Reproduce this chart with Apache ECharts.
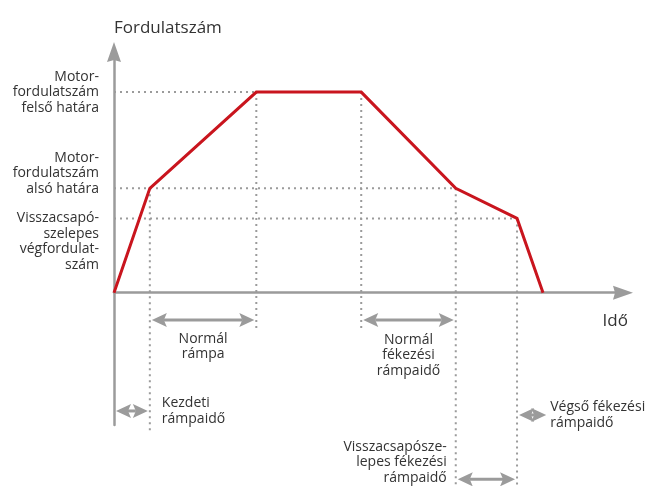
<!DOCTYPE html>
<html><head><meta charset="utf-8">
<script src="https://cdn.jsdelivr.net/npm/echarts@6/dist/echarts.min.js"></script>
<style>html,body{margin:0;padding:0;background:#fff}#c{width:648px;height:486px}</style>
</head><body><div id="c"></div><script>
// ---- data ----
const timePoints = [0, 6.9, 27.4, 47.6, 65.8, 77.6, 82.6];
const speedValues = [0, 52, 100, 100, 52, 37, 0];
const levelValues = [100, 52, 37];
const levelEnds = [27.4, 65.8, 77.6];
const levelLabels = ['Motor-\nfordulatszám\nfelső határa', 'Motor-\nfordulatszám\nalsó határa', 'Visszacsapó-\nszelepes\nvégfordulat-\nszám'];
const guideTimes = [6.9, 27.4, 47.6, 65.8, 77.6];
const guideTops = [52, 100, 100, 52, 37];
const rampStart = [0, 6.9, 47.6, 65.8, 77.6];
const rampEnd = [6.9, 27.4, 65.8, 77.6, 83.6];
const rampLabels = ['Kezdeti\nrámpaidő', 'Normál\nrámpa', 'Normál\nfékezési\nrámpaidő', 'Visszacsapósze-\nlepes fékezési\nrámpaidő', 'Végső fékezési\nrámpaidő'];
const axisTitles = ['Fordulatszám', 'Idő'];

// ---- layout (not data) ----
const guideBottoms = [-70, -18.7, -18.7, -97, -97];
const rampRows = [-59, -13.7, -13.7, -93.1, -61];
const levelLayout = [{va:'middle', dy:0}, {va:'bottom', dy:8}, {va:'top', dy:-8}];
const rampLayout = [
  {anchor:'end', dx:12, dy:0, align:'left', va:'middle'},
  {anchor:'mid', dx:0, dy:11, align:'center', va:'top'},
  {anchor:'mid', dx:0, dy:12, align:'center', va:'top'},
  {anchor:'start', dx:-9, dy:6, align:'right', va:'bottom'},
  {anchor:'end', dx:2, dy:0, align:'left', va:'middle'}
];
const GRAY = '#9b9b9b';
const TEXT = '#333333';
const FONT = '"Open Sans", sans-serif';
const RED = '#c9151e';

const guideData = [];
levelValues.forEach((v, i) => guideData.push([0, v, levelEnds[i], v]));
guideTimes.forEach((t, i) => guideData.push([t, guideTops[i], t, guideBottoms[i]]));

const rampData = rampStart.map((s, i) => [s, rampEnd[i], rampRows[i]]);

const X_MAX = 98;
const chart = echarts.init(document.getElementById('c'), null, {renderer: 'canvas'});
const arrowPath = 'path://M7,0 L14,20 L7,18 L0,20 Z';

chart.setOption({
  animation: false,
  backgroundColor: '#fff',
  grid: {left: 114, right: 25, top: 52, bottom: 61, outerBoundsMode: 'none'},
  xAxis: {
    type: 'value', min: 0, max: X_MAX,
    axisLine: {show: true, onZero: true, symbol: ['none', arrowPath], symbolSize: [14, 20],
      lineStyle: {color: GRAY, width: 2.5}},
    axisTick: {show: false}, axisLabel: {show: false}, splitLine: {show: false}
  },
  yAxis: {
    type: 'value', min: -66, max: 120,
    axisLine: {show: true, onZero: true, symbol: ['none', arrowPath], symbolSize: [14, 20],
      lineStyle: {color: GRAY, width: 2.5}},
    axisTick: {show: false}, axisLabel: {show: false}, splitLine: {show: false},
    name: axisTitles[0], nameLocation: 'end', nameGap: 24,
    nameTextStyle: {color: TEXT, fontFamily: FONT, fontSize: 17, align: 'left', verticalAlign: 'middle'}
  },
  series: [
    {
      type: 'custom', name: 'guides', z: 1, clip: false,
      data: guideData,
      renderItem: (params, api) => {
        const p1 = api.coord([api.value(0), api.value(1)]);
        const p2 = api.coord([api.value(2), api.value(3)]);
        return {type: 'line', shape: {x1: p1[0], y1: p1[1], x2: p2[0], y2: p2[1]},
          style: {stroke: GRAY, lineWidth: 2, lineDash: [2, 4]}};
      }
    },
    {
      type: 'line', name: 'speed', z: 5,
      data: timePoints.map((t, i) => [t, speedValues[i]]),
      showSymbol: false, symbol: 'none',
      lineStyle: {color: RED, width: 3, join: 'miter'}
    },
    {
      type: 'custom', name: 'ramps', z: 3, clip: false,
      data: rampData,
      renderItem: (params, api) => {
        const a = api.coord([api.value(0), api.value(2)]);
        const b = api.coord([api.value(1), api.value(2)]);
        const y = a[1];
        const x1 = a[0] + 2, x2 = b[0] - 2;
        const L = 15, W = 14, N = 3;
        const head = (xt, s) => ({type: 'polygon', shape: {points: [
          [xt, y], [xt - s * L, y - W / 2], [xt - s * (L - N), y], [xt - s * L, y + W / 2]]},
          style: {fill: GRAY}});
        const children = [];
        const sx1 = x1 + (L - N), sx2 = x2 - (L - N);
        if (sx2 > sx1) children.push({type: 'line', shape: {x1: sx1, y1: y, x2: sx2, y2: y}, style: {stroke: GRAY, lineWidth: 3}});
        children.push(head(x1, -1), head(x2, 1));
        return {type: 'group', children};
      }
    },
    {
      type: 'custom', name: 'levelLabels', z: 4, clip: false,
      data: levelValues.map(v => [0, v]),
      renderItem: (params, api) => {
        const i = params.dataIndex;
        const p = api.coord([api.value(0), api.value(1)]);
        const lay = levelLayout[i];
        return {type: 'text', x: p[0] - 15, y: p[1] + lay.dy,
          style: {text: levelLabels[i], fill: TEXT, fontFamily: FONT, fontSize: 14, lineHeight: 15.5,
            align: 'right', verticalAlign: lay.va}};
      }
    },
    {
      type: 'custom', name: 'rampLabels', z: 4, clip: false,
      data: rampData,
      renderItem: (params, api) => {
        const i = params.dataIndex;
        const lay = rampLayout[i];
        const a = api.coord([api.value(0), api.value(2)]);
        const b = api.coord([api.value(1), api.value(2)]);
        let x = lay.anchor === 'start' ? a[0] : lay.anchor === 'end' ? b[0] : (a[0] + b[0]) / 2;
        return {type: 'text', x: x + lay.dx, y: a[1] + lay.dy,
          style: {text: rampLabels[i], fill: TEXT, fontFamily: FONT, fontSize: 14, lineHeight: 15.5,
            align: lay.align, verticalAlign: lay.va}};
      }
    },
    {
      type: 'custom', name: 'timeAxisTitle', z: 4, clip: false,
      data: [[X_MAX, 0]],
      renderItem: (params, api) => {
        const p = api.coord([api.value(0), api.value(1)]);
        return {type: 'text', x: p[0] + 5, y: p[1] + 29,
          style: {text: axisTitles[1], fill: TEXT, fontFamily: FONT, fontSize: 17,
            align: 'right', verticalAlign: 'middle'}};
      }
    }
  ]
});
</script></body></html>
